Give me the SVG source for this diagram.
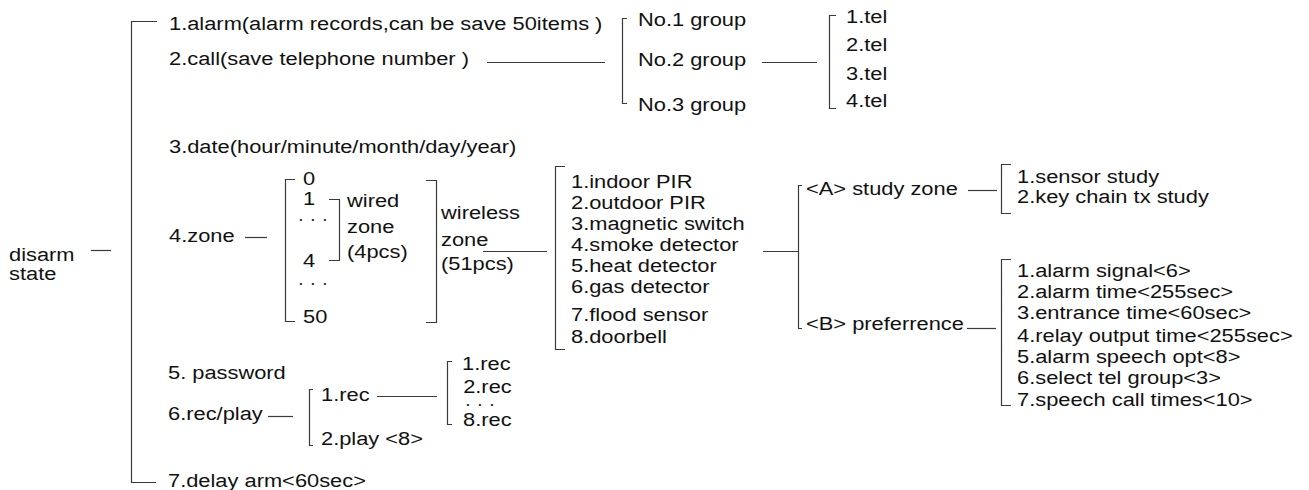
<svg xmlns="http://www.w3.org/2000/svg" width="1309" height="490" viewBox="0 0 1309 490">
<style>
text{font-family:"Liberation Sans",Arial,sans-serif;font-size:19px;fill:#111}
text.dots{font-size:8px;letter-spacing:9.2px}
.c line,.c path{stroke:#3a3a3a;stroke-width:1.2;fill:none}
</style>
<rect width="1309" height="490" fill="#fff"/>
<g class="c" id="connectors">
<line x1="91" y1="250.5" x2="111" y2="250.5"/>
<path d="M157 21.5H131.5V482.5H156"/>
<line x1="487" y1="62.5" x2="605" y2="62.5"/>
<path d="M627 18.5H622.5V103.5H627"/>
<line x1="762" y1="62.5" x2="817" y2="62.5"/>
<path d="M836 15.5H829.5V108.5H836"/>
<line x1="245" y1="237.5" x2="267" y2="237.5"/>
<path d="M295 179.5H285.5V321.5H295"/>
<path d="M329 199.5H339.5V260.5H329"/>
<path d="M426 180.5H436.5V322.5H426"/>
<line x1="483" y1="251.5" x2="547" y2="251.5"/>
<path d="M565 166.5H555.5V349.5H565"/>
<line x1="763" y1="251.5" x2="798" y2="251.5"/>
<path d="M802 185.5H798.5V328.5H802"/>
<line x1="968" y1="190.5" x2="997" y2="190.5"/>
<path d="M1011 164.5H1001.5V213.5H1011"/>
<line x1="967" y1="328.5" x2="996" y2="328.5"/>
<path d="M1011 259.5H1001.5V405.5H1011"/>
<line x1="268" y1="416.5" x2="293" y2="416.5"/>
<path d="M313 389.5H309.5V445.5H313"/>
<line x1="377" y1="396.5" x2="437" y2="396.5"/>
<path d="M452 361.5H447.5V424.5H452"/>
</g>
<g id="disarm"><text transform="matrix(1.15 0 0 1 9 0)"><tspan x="0" y="261">disarm</tspan><tspan x="0" y="280">state</tspan></text></g>
<g id="alarm"><text transform="matrix(1.15 0 0 1 169 30)">1.alarm(alarm records,can be save 50items )</text></g>
<g id="call"><text transform="matrix(1.15 0 0 1 169 65)">2.call(save telephone number )</text></g>
<g id="groups"><text transform="matrix(1.15 0 0 1 638 0)"><tspan x="0" y="26">No.1 group</tspan><tspan x="0" y="66">No.2 group</tspan><tspan x="0" y="111">No.3 group</tspan></text></g>
<g id="tels"><text transform="matrix(1.15 0 0 1 846 0)"><tspan x="0" y="23">1.tel</tspan><tspan x="0" y="51">2.tel</tspan><tspan x="0" y="80">3.tel</tspan><tspan x="0" y="107">4.tel</tspan></text></g>
<g id="date"><text transform="matrix(1.15 0 0 1 169 153)">3.date(hour/minute/month/day/year)</text></g>
<g id="zone"><text transform="matrix(1.15 0 0 1 169 242)">4.zone</text></g>
<g id="zone-numbers">
<text transform="matrix(1.15 0 0 1 303 0)"><tspan x="0" y="185.5">0</tspan><tspan x="0" y="205.5">1</tspan></text>
<text class="dots" x="299.5" y="222">•••</text>
<text transform="matrix(1.15 0 0 1 303 266.5)">4</text>
<text class="dots" x="299.5" y="286">•••</text>
<text transform="matrix(1.15 0 0 1 303 323)">50</text>
</g>
<g id="wired"><text transform="matrix(1.15 0 0 1 347 0)"><tspan x="0" y="207">wired</tspan><tspan x="0" y="233">zone</tspan><tspan x="0" y="258">(4pcs)</tspan></text></g>
<g id="wireless"><text transform="matrix(1.15 0 0 1 441 0)"><tspan x="0" y="219">wireless</tspan><tspan x="0" y="246">zone</tspan><tspan x="0" y="270">(51pcs)</tspan></text></g>
<g id="sensors"><text transform="matrix(1.15 0 0 1 571 0)"><tspan x="0" y="188">1.indoor PIR</tspan><tspan x="0" y="209">2.outdoor PIR</tspan><tspan x="0" y="230">3.magnetic switch</tspan><tspan x="0" y="251">4.smoke detector</tspan><tspan x="0" y="272">5.heat detector</tspan><tspan x="0" y="293">6.gas detector</tspan><tspan x="0" y="321">7.flood sensor</tspan><tspan x="0" y="343">8.doorbell</tspan></text></g>
<g id="study-zone"><text transform="matrix(1.15 0 0 1 806 195)">&lt;A&gt; study zone</text></g>
<g id="study-list"><text transform="matrix(1.15 0 0 1 1017 0)"><tspan x="0" y="183">1.sensor study</tspan><tspan x="0" y="203">2.key chain tx study</tspan></text></g>
<g id="preference"><text transform="matrix(1.15 0 0 1 806 330)">&lt;B&gt; preferrence</text></g>
<g id="pref-list"><text transform="matrix(1.15 0 0 1 1017 0)"><tspan x="0" y="277">1.alarm signal&lt;6&gt;</tspan><tspan x="0" y="298">2.alarm time&lt;255sec&gt;</tspan><tspan x="0" y="319">3.entrance time&lt;60sec&gt;</tspan><tspan x="0" y="342">4.relay output time&lt;255sec&gt;</tspan><tspan x="0" y="363">5.alarm speech opt&lt;8&gt;</tspan><tspan x="0" y="384">6.select tel group&lt;3&gt;</tspan><tspan x="0" y="406">7.speech call times&lt;10&gt;</tspan></text></g>
<g id="password"><text transform="matrix(1.15 0 0 1 168 379)">5. password</text></g>
<g id="recplay"><text transform="matrix(1.15 0 0 1 168 420)">6.rec/play</text></g>
<g id="rec"><text transform="matrix(1.15 0 0 1 321 401)">1.rec</text></g>
<g id="play"><text transform="matrix(1.15 0 0 1 321 445)">2.play &lt;8&gt;</text></g>
<g id="rec-list">
<text transform="matrix(1.15 0 0 1 462 0)"><tspan x="0" y="370">1.rec</tspan><tspan x="1" y="393">2.rec</tspan></text>
<text class="dots" x="466.5" y="406.5">•••</text>
<text transform="matrix(1.15 0 0 1 463 426)">8.rec</text>
</g>
<g id="delay"><text transform="matrix(1.15 0 0 1 168 487)">7.delay arm&lt;60sec&gt;</text></g>
</svg>
